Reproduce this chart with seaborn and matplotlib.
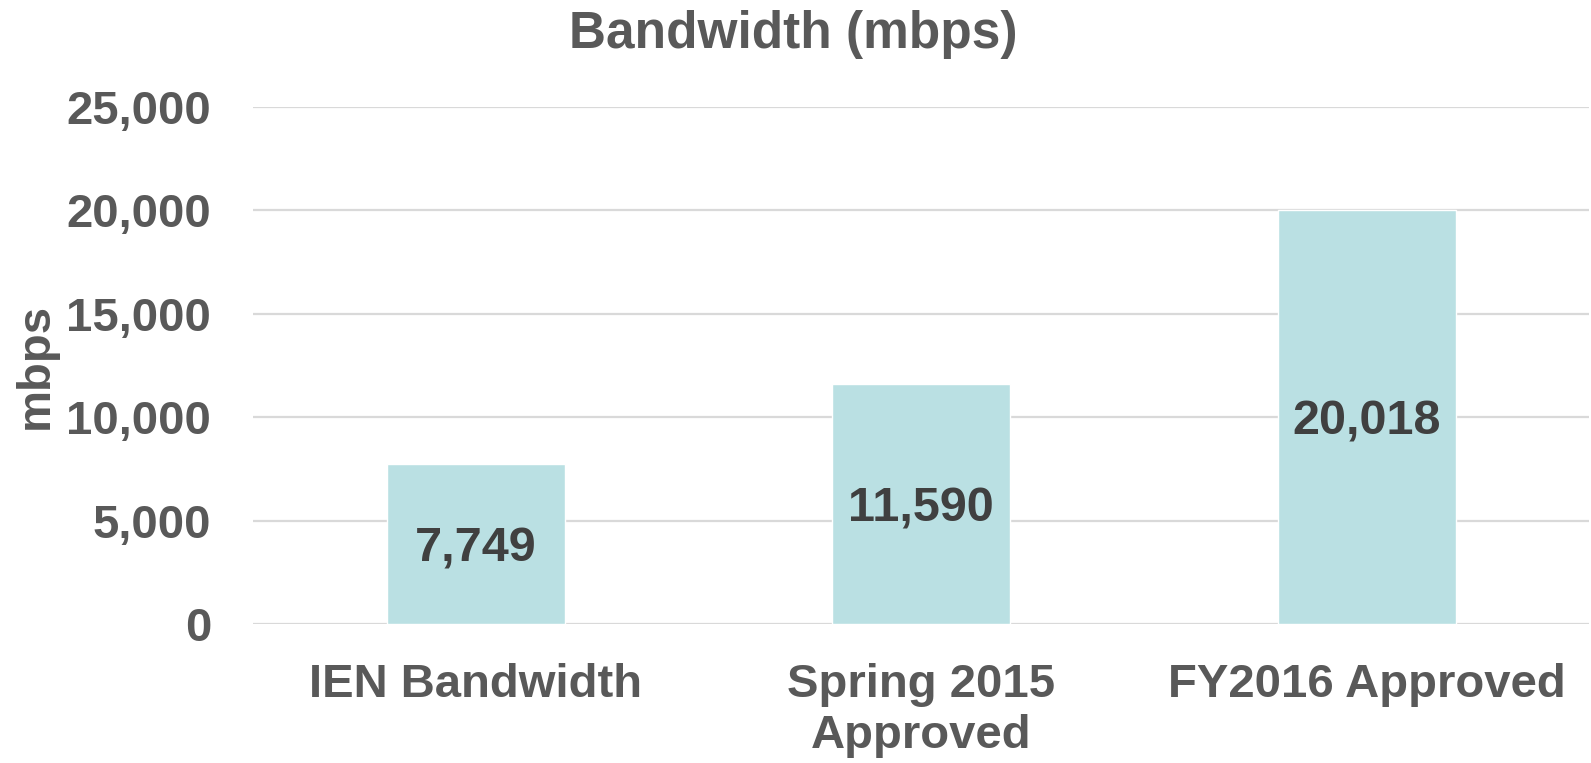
import pandas as pd
import matplotlib.pyplot as plt
import matplotlib.ticker as mticker
import seaborn as sns

# Data
categories = ['IEN Bandwidth', 'Spring 2015\nApproved', 'FY2016 Approved']
bandwidth = [7749, 11590, 20018]

df = pd.DataFrame({'category': categories, 'mbps': bandwidth})

sns.set_style('white')
plt.rcParams['font.family'] = ['Liberation Sans', 'DejaVu Sans']
plt.rcParams['font.weight'] = 'bold'

fig = plt.figure(figsize=(15.91, 7.63), dpi=100)
ax = fig.add_axes([0.159, 0.182, 0.840, 0.678])

sns.barplot(data=df, x='category', y='mbps', color='#BAE0E3', width=0.4,
            saturation=1, ax=ax, zorder=2)

# Value labels in the middle of each bar
for i, v in enumerate(bandwidth):
    ax.annotate(f'{v:,}', (i, v / 2), xytext=(0, -3.5), textcoords='offset points',
                ha='center', va='center', fontsize=35, fontweight='bold',
                color='#404040', zorder=3)

ax.set_ylim(0, 25000)
ax.yaxis.set_major_locator(mticker.MultipleLocator(5000))
ax.yaxis.set_major_formatter(mticker.FuncFormatter(lambda x, p: f'{int(x):,}'))
ax.grid(axis='y', color='#D9D9D9', linewidth=1.6, zorder=0)
ax.set_axisbelow(True)
for s in ax.spines.values():
    s.set_visible(False)

ax.tick_params(axis='both', length=0, labelsize=34, labelcolor='#595959')
ax.tick_params(axis='y', pad=30)
ax.tick_params(axis='x', pad=28)
for lbl in ax.get_xticklabels() + ax.get_yticklabels():
    lbl.set_fontweight('bold')

ax.set_xlabel('')
ax.set_ylabel('mbps', fontsize=34, fontweight='bold', color='#595959', labelpad=6)
fig.text(0.4985, 0.937, 'Bandwidth (mbps)', ha='center', va='baseline',
         fontsize=37, fontweight='bold', color='#595959')

fig.savefig('out.png', dpi=100)
